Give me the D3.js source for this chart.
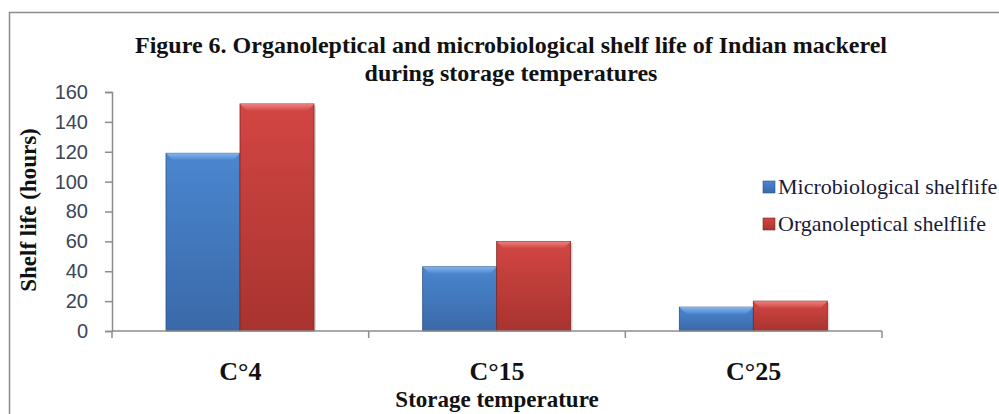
<!DOCTYPE html>
<html>
<head>
<meta charset="utf-8">
<script src="https://cdn.jsdelivr.net/npm/d3@7"></script>
<style>
  body { margin: 0; background: #fff; }
  svg { display: block; }
</style>
</head>
<body>
<svg id="chart"></svg>
<script>
// chart data
var categories = ["C°4", "C°15", "C°25"];
var seriesNames = ["Microbiological shelflife", "Organoleptical shelflife"];
var microValues = [119, 43, 16];
var organoValues = [152, 60, 20];
var yTicks = [0, 20, 40, 60, 80, 100, 120, 140, 160];

var W = 999, H = 414;
var margin = {left: 112, top: 92};
var serif = "'Liberation Serif', 'Times New Roman', serif";

var svg = d3.select("#chart").attr("width", W).attr("height", H);

// outer frame
svg.append("rect")
  .attr("x", 9.5).attr("y", 12.5)
  .attr("width", W + 20).attr("height", H + 20)
  .attr("fill", "none").attr("stroke", "#8c8c8c").attr("stroke-width", 1.5);

var defs = svg.append("defs");
function grad(id, c1, c2) {
  var g = defs.append("linearGradient").attr("id", id)
    .attr("x1", 0).attr("y1", 0).attr("x2", 0).attr("y2", 1);
  g.append("stop").attr("offset", "0%").attr("stop-color", c1);
  g.append("stop").attr("offset", "100%").attr("stop-color", c2);
}
grad("gBlue", "#4a86d0", "#3a69a8");
grad("gRed", "#d24643", "#a8332f");
grad("gBlueTop", "#8cbcf0", "#4a86d0");
grad("gRedTop", "#ee8a86", "#d24643");

var colors = [{body: "url(#gBlue)", top: "url(#gBlueTop)", edge: "#2c5485"},
              {body: "url(#gRed)", top: "url(#gRedTop)", edge: "#7d2624"}];

var g = svg.append("g").attr("transform", "translate(" + margin.left + "," + margin.top + ")");

var x = d3.scaleBand().domain(categories).range([0, 770]);
var y = d3.scaleLinear().domain([0, 160]).range([239, 0]);
var x1 = d3.scaleBand().domain(seriesNames).range([54, 54 + 148]);

var rows = categories.map(function(c, i) {
  return {cat: c, vals: [microValues[i], organoValues[i]]};
});

var groups = g.selectAll(".grp").data(rows).enter().append("g")
  .attr("transform", function(d) { return "translate(" + x(d.cat) + ",0)"; });

groups.each(function(d) {
  var sel = d3.select(this);
  d.vals.forEach(function(v, k) {
    var bx = x1(seriesNames[k]), bw = x1.bandwidth(), by = y(v), bh = y(0) - y(v);
    var c = colors[k];
    // shadow
    sel.append("rect").attr("x", bx + 2).attr("y", by + 2).attr("width", bw).attr("height", bh - 2)
      .attr("fill", "#000").attr("opacity", 0.15);
    sel.append("rect").attr("x", bx).attr("y", by).attr("width", bw).attr("height", bh)
      .attr("fill", c.body).attr("stroke", c.edge).attr("stroke-width", 0.8);
    // bevel top
    var bev = Math.min(7, bh / 2);
    sel.append("path")
      .attr("d", "M" + bx + "," + by + "L" + (bx + bw) + "," + by + "L" + (bx + bw - bev) + "," + (by + bev) +
                 "L" + (bx + bev) + "," + (by + bev) + "Z")
      .attr("fill", c.top).attr("opacity", 0.9);
  });
});

// y axis
var yAxis = g.append("g").call(d3.axisLeft(y).tickValues(yTicks).tickSize(7).tickPadding(17));
yAxis.select(".domain").attr("stroke", "#8c8c8c").attr("stroke-width", 1.5);
yAxis.selectAll(".tick line").attr("stroke", "#8c8c8c").attr("stroke-width", 1.5);
yAxis.selectAll(".tick text").attr("font-family", "'Liberation Sans', Arial, sans-serif")
  .attr("font-size", 20).attr("fill", "#3a4658");

// x axis
var xAxis = g.append("g").attr("transform", "translate(0," + y(0) + ")");
xAxis.append("line").attr("x1", 0).attr("x2", 770).attr("y1", 0).attr("y2", 0)
  .attr("stroke", "#8c8c8c").attr("stroke-width", 1.5);
xAxis.selectAll(".xt").data([0, 1, 2, 3]).enter().append("line")
  .attr("x1", function(i) { return i * x.bandwidth(); })
  .attr("x2", function(i) { return i * x.bandwidth(); })
  .attr("y1", 0).attr("y2", 7).attr("stroke", "#8c8c8c").attr("stroke-width", 1.5);
xAxis.selectAll(".cat").data(categories).enter().append("text")
  .attr("x", function(d) { return x(d) + x.bandwidth() / 2; })
  .attr("y", 49).attr("text-anchor", "middle")
  .attr("font-family", serif)
  .attr("font-weight", "bold").attr("font-size", 26).attr("fill", "#111")
  .text(function(d) { return d; });

// axis titles
svg.append("text").attr("x", 497).attr("y", 407).attr("text-anchor", "middle")
  .attr("font-family", serif).attr("font-weight", "bold")
  .attr("font-size", 23).attr("fill", "#111").text("Storage temperature");
svg.append("text").attr("transform", "translate(36,210) rotate(-90)").attr("text-anchor", "middle")
  .attr("font-family", serif).attr("font-weight", "bold")
  .attr("font-size", 23).attr("fill", "#111").text("Shelf life (hours)");

// title
var title = svg.append("text").attr("text-anchor", "middle")
  .attr("font-family", serif).attr("font-weight", "bold")
  .attr("font-size", 24).attr("fill", "#111");
title.append("tspan").attr("x", 511).attr("y", 53)
  .text("Figure 6. Organoleptical and microbiological  shelf life of Indian mackerel");
title.append("tspan").attr("x", 511).attr("y", 81).text("during storage temperatures");

// legend
var legend = svg.append("g").attr("transform", "translate(763,181)");
seriesNames.forEach(function(s, k) {
  var lg = legend.append("g").attr("transform", "translate(0," + (k * 37) + ")");
  lg.append("rect").attr("width", 12).attr("height", 12).attr("fill", colors[k].body)
    .attr("stroke", colors[k].edge).attr("stroke-width", 0.6);
  lg.append("text").attr("x", 15).attr("y", 13)
    .attr("font-family", serif).attr("font-size", 22)
    .attr("fill", "#1a1a3a").text(s);
});
</script>
</body>
</html>
